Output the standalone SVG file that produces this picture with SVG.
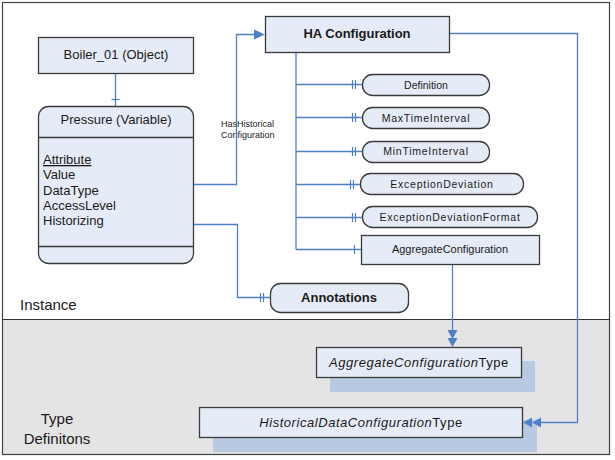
<svg xmlns="http://www.w3.org/2000/svg" width="615" height="460" viewBox="0 0 615 460">
<defs>
<style>
.node{fill:#e6ecf7;stroke:#3a3a3a;stroke-width:1.3}
.shadow{fill:#b8c9e2;stroke:none}
.ln{fill:none;stroke:#4f7fc6;stroke-width:1.3}
.tk{stroke:#4f7fc6;stroke-width:1.2}
.ah{fill:#4f7fc6;stroke:none}
.t{font-family:"Liberation Sans",Arial,sans-serif;fill:#1a1a1a}
.s11{font-size:10.5px;letter-spacing:0.75px}
.s13{font-size:13px}
.b{font-weight:bold;font-size:13px}
.it{font-size:13px;letter-spacing:0.55px}
</style>
</defs>
<rect x="0" y="0" width="615" height="460" fill="#ffffff"/>
<rect x="2.5" y="319.5" width="607" height="135" fill="#e4e4e4"/>
<rect x="2.5" y="2.5" width="607" height="452" fill="none" stroke="#444" stroke-width="1.2"/>
<line x1="2.5" y1="319.5" x2="609.5" y2="319.5" stroke="#333" stroke-width="1"/>
<text class="t" x="20" y="310" font-size="15">Instance</text>
<text class="t" x="57" y="424" font-size="15" text-anchor="middle">Type</text>
<text class="t" x="57" y="444" font-size="15" text-anchor="middle">Definitons</text>

<g id="boiler">
<rect class="node" x="38.5" y="37.5" width="155" height="36"/>
<text class="t s13" x="116" y="59" text-anchor="middle">Boiler_01 (Object)</text>
</g>

<g id="pressure">
<rect class="node" x="38.5" y="106.5" width="155" height="157" rx="10"/>
<line x1="38.5" y1="137.5" x2="193.5" y2="137.5" stroke="#3a3a3a" stroke-width="1.3"/>
<line x1="38.5" y1="246.5" x2="193.5" y2="246.5" stroke="#3a3a3a" stroke-width="1.3"/>
<text class="t s13" x="116" y="124" text-anchor="middle">Pressure (Variable)</text>
<text class="t s13" x="43" y="164" text-decoration="underline">Attribute</text>
<text class="t s13" x="43" y="179">Value</text>
<text class="t s13" x="43" y="195">DataType</text>
<text class="t s13" x="43" y="210">AccessLevel</text>
<text class="t s13" x="43" y="225">Historizing</text>
</g>

<text class="t" x="221" y="127" font-size="9">HasHistorical</text>
<text class="t" x="221" y="138" font-size="9">Configuration</text>

<g id="ha-config">
<rect class="node" x="265.5" y="16.5" width="184" height="36" stroke="#555" stroke-width="1.6"/>
<text class="t b" x="357" y="38" text-anchor="middle">HA Configuration</text>
</g>

<g id="definition">
<rect class="node" x="362.5" y="74.5" width="127" height="21" rx="10"/>
<text class="t" x="426" y="89" font-size="10.5" text-anchor="middle">Definition</text>
</g>
<g id="maxtime">
<rect class="node" x="362.5" y="107.5" width="127" height="21" rx="10"/>
<text class="t s11" x="426" y="122" text-anchor="middle">MaxTimeInterval</text>
</g>
<g id="mintime">
<rect class="node" x="362.5" y="141.5" width="127" height="21" rx="10"/>
<text class="t s11" x="426" y="155" text-anchor="middle">MinTimeInterval</text>
</g>
<g id="excdev">
<rect class="node" x="360.5" y="173.5" width="163" height="21" rx="10"/>
<text class="t s11" x="442" y="188" text-anchor="middle">ExceptionDeviation</text>
</g>
<g id="excdevfmt">
<rect class="node" x="362.5" y="206.5" width="175" height="21" rx="10"/>
<text class="t s11" x="450" y="221" text-anchor="middle">ExceptionDeviationFormat</text>
</g>
<g id="aggconf">
<rect class="node" x="361.5" y="235.5" width="178" height="29" stroke="#555" stroke-width="1.6"/>
<text class="t" x="450" y="253" font-size="11" text-anchor="middle">AggregateConfiguration</text>
</g>

<g id="annotations">
<rect class="node" x="270.5" y="283.5" width="138" height="29" rx="10"/>
<text class="t b" x="339" y="302" text-anchor="middle">Annotations</text>
</g>

<g id="aggtype">
<rect class="shadow" x="330" y="361" width="205" height="31"/>
<rect class="node" x="316.5" y="347.5" width="205" height="30"/>
<text class="t it" x="419" y="367" text-anchor="middle"><tspan font-style="italic">AggregateConfiguration</tspan>Type</text>
</g>

<g id="histtype">
<rect class="shadow" x="213" y="420" width="324" height="32"/>
<rect class="node" x="199.5" y="407.5" width="323" height="30"/>
<text class="t it" x="361" y="427" text-anchor="middle"><tspan font-style="italic">HistoricalDataConfiguration</tspan>Type</text>
</g>

<g id="connectors">
<line class="ln" x1="115.5" y1="74" x2="115.5" y2="106"/>
<line class="tk" x1="111.5" y1="99.5" x2="119.5" y2="99.5"/>
<polyline class="ln" points="194,184.5 236.5,184.5 236.5,34.5 256,34.5"/>
<path class="ah" d="M254,29.5 L265,34.5 L254,39.5 Z"/>
<polyline class="ln" points="194,224.5 237.5,224.5 237.5,297.5 270,297.5"/>
<line class="tk" x1="260.5" y1="293" x2="260.5" y2="302"/>
<line class="tk" x1="263.5" y1="293" x2="263.5" y2="302"/>
<line class="ln" x1="296" y1="53" x2="296" y2="249.5" stroke-width="2"/>
<line class="ln" x1="296" y1="84.5" x2="362" y2="84.5"/>
<line class="ln" x1="296" y1="117.5" x2="362" y2="117.5"/>
<line class="ln" x1="296" y1="151.5" x2="362" y2="151.5"/>
<line class="ln" x1="296" y1="184.5" x2="360" y2="184.5"/>
<line class="ln" x1="296" y1="217.5" x2="362" y2="217.5"/>
<line class="ln" x1="296" y1="249.5" x2="361" y2="249.5"/>
<g class="tk">
<line x1="352.5" y1="80" x2="352.5" y2="89"/><line x1="355.5" y1="80" x2="355.5" y2="89"/>
<line x1="352.5" y1="113" x2="352.5" y2="122"/><line x1="355.5" y1="113" x2="355.5" y2="122"/>
<line x1="352.5" y1="147" x2="352.5" y2="156"/><line x1="355.5" y1="147" x2="355.5" y2="156"/>
<line x1="350.5" y1="180" x2="350.5" y2="189"/><line x1="353.5" y1="180" x2="353.5" y2="189"/>
<line x1="352.5" y1="213" x2="352.5" y2="222"/><line x1="355.5" y1="213" x2="355.5" y2="222"/>
<line x1="354.5" y1="245" x2="354.5" y2="254"/>
</g>
<line class="ln" x1="452.5" y1="265" x2="452.5" y2="332"/>
<path class="ah" d="M447.5,330 L452.5,339 L457.5,330 Z M447.5,338 L452.5,347 L457.5,338 Z"/>
<polyline class="ln" points="450,33.5 577.5,33.5 577.5,422.5 540,422.5"/>
<path class="ah" d="M541,417.5 L532,422.5 L541,427.5 Z M532,417.5 L523,422.5 L532,427.5 Z"/>
</g>
</svg>
